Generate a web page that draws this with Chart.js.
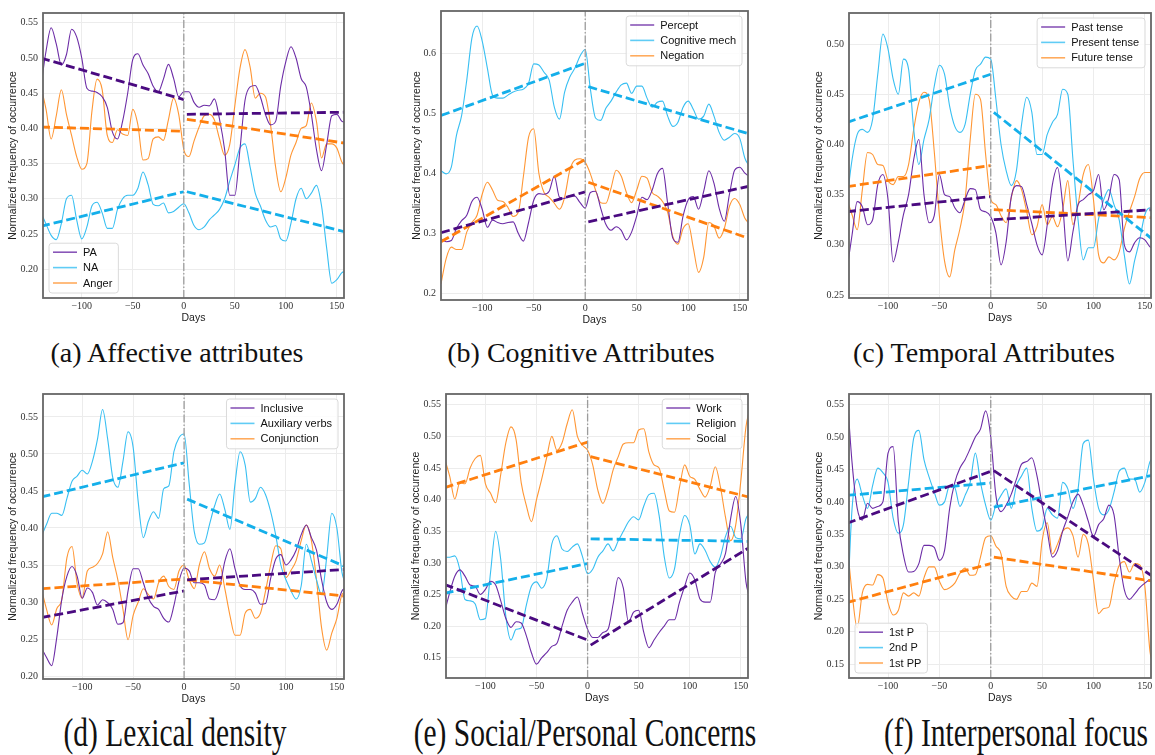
<!DOCTYPE html>
<html>
<head>
<meta charset="utf-8">
<script src="https://cdn.jsdelivr.net/npm/chart.js@4.4.1/dist/chart.umd.min.js"></script>
<style>
  body { margin: 0; background: #fff; width: 1155px; height: 755px; position: relative; overflow: hidden; }
  canvas { position: absolute; }
  .cap { position: absolute; width: 600px; text-align: center; white-space: nowrap;
         font-family: "Liberation Serif", "Times New Roman", serif; color: #111; transform-origin: center center; }
  .top { font-size: 28px; line-height: 28px; top: 339px; }
  .bottom { font-size: 41px; line-height: 41px; top: 712px; transform: scaleX(0.72); }
</style>
</head>
<body>
<canvas id="chartA"></canvas>
<canvas id="chartB"></canvas>
<canvas id="chartC"></canvas>
<canvas id="chartD"></canvas>
<canvas id="chartE"></canvas>
<canvas id="chartF"></canvas>

<div class="cap top" style="left:-123px">(a) Affective attributes</div>
<div class="cap top" style="left:281px">(b) Cognitive Attributes</div>
<div class="cap top" style="left:684px">(c) Temporal Attributes</div>
<div class="cap bottom" style="left:-125px">(d) Lexical density</div>
<div class="cap bottom" style="left:285px">(e) Social/Personal Concerns</div>
<div class="cap bottom" style="left:716px">(f) Interpersonal focus</div>

<script>
// days relative to the event, sampled every 5 days (last sample at the right edge)
const days = [-140, -135, -130, -125, -120, -115, -110, -105, -100, -95,
              -90, -85, -80, -75, -70, -65, -60, -55, -50, -45,
              -40, -35, -30, -25, -20, -15, -10, -5, 0, 5,
              10, 15, 20, 25, 30, 35, 40, 45, 50, 55,
              60, 65, 70, 75, 80, 85, 90, 95, 100, 105,
              110, 115, 120, 125, 130, 135, 140, 145, 150, 155, 158];
const xTicks = [-100, -50, 0, 50, 100, 150];
// trend segments: before (start, end) and after (start, end)
const trendDays = [-140, 0, 3, 158];

// (a) Affective attributes
const paValues = [0.46, 0.51, 0.543, 0.52, 0.49, 0.505, 0.541, 0.53, 0.50, 0.457,
  0.453, 0.451, 0.445, 0.43, 0.395, 0.385, 0.41, 0.45, 0.498, 0.506,
  0.49, 0.478, 0.46, 0.452, 0.47, 0.491, 0.471, 0.445, 0.452, 0.452,
  0.437, 0.43, 0.433, 0.432, 0.442, 0.413, 0.37, 0.305, 0.305, 0.37,
  0.44, 0.459, 0.461, 0.445, 0.42, 0.405, 0.41, 0.46, 0.495, 0.516,
  0.50, 0.471, 0.459, 0.42, 0.37, 0.34, 0.377, 0.418, 0.42, 0.41, 0.409];
const naValues = [0.28, 0.264, 0.248, 0.242, 0.265, 0.30, 0.305, 0.27, 0.243, 0.26,
  0.29, 0.295, 0.28, 0.258, 0.258, 0.285, 0.30, 0.305, 0.305, 0.315,
  0.338, 0.32, 0.292, 0.29, 0.294, 0.28, 0.282, 0.288, 0.293, 0.28,
  0.262, 0.256, 0.26, 0.27, 0.277, 0.285, 0.30, 0.325, 0.348, 0.372,
  0.378, 0.345, 0.308, 0.29, 0.27, 0.26, 0.262, 0.243, 0.24, 0.265,
  0.30, 0.315, 0.30, 0.308, 0.319, 0.29, 0.23, 0.18, 0.185, 0.195, 0.197];
const angerValues = [0.459, 0.427, 0.385, 0.418, 0.455, 0.42, 0.39, 0.36, 0.342, 0.35,
  0.425, 0.47, 0.455, 0.39, 0.38, 0.398, 0.392, 0.39, 0.427, 0.405,
  0.355, 0.357, 0.385, 0.388, 0.383, 0.413, 0.443, 0.42, 0.37, 0.36,
  0.382, 0.402, 0.418, 0.42, 0.412, 0.385, 0.362, 0.377, 0.432, 0.485,
  0.512, 0.487, 0.443, 0.45, 0.445, 0.405, 0.345, 0.31, 0.33, 0.362,
  0.38, 0.40, 0.404, 0.436, 0.41, 0.358, 0.378, 0.378, 0.372, 0.352, 0.347];
const paTrend = [0.500, 0.441, 0.420, 0.423];
const naTrend = [0.261, 0.310, 0.310, 0.253];
const angerTrend = [0.402, 0.396, 0.413, 0.379];
const affectiveTicks = [0.20, 0.25, 0.30, 0.35, 0.40, 0.45, 0.50, 0.55];

// (b) Cognitive attributes
const perceptValues = [0.291, 0.286, 0.288, 0.308, 0.321, 0.33, 0.353, 0.36, 0.34, 0.31,
  0.322, 0.318, 0.316, 0.318, 0.319, 0.30, 0.287, 0.318, 0.355, 0.366,
  0.365, 0.37, 0.395, 0.36, 0.358, 0.363, 0.362, 0.351, 0.342, 0.368,
  0.37, 0.342, 0.315, 0.305, 0.311, 0.305, 0.289, 0.302, 0.329, 0.36,
  0.356, 0.372, 0.399, 0.408, 0.35, 0.292, 0.285, 0.329, 0.356, 0.361,
  0.34, 0.37, 0.404, 0.383, 0.342, 0.32, 0.365, 0.405, 0.41, 0.40, 0.396];
const cogMechValues = [0.404, 0.399, 0.41, 0.463, 0.496, 0.555, 0.625, 0.645, 0.62, 0.575,
  0.53, 0.525, 0.525, 0.53, 0.535, 0.538, 0.54, 0.55, 0.582, 0.58,
  0.568, 0.555, 0.51, 0.49, 0.535, 0.56, 0.575, 0.595, 0.606, 0.54,
  0.492, 0.488, 0.508, 0.52, 0.535, 0.547, 0.55, 0.533, 0.545, 0.545,
  0.525, 0.51, 0.518, 0.52, 0.495, 0.478, 0.485, 0.51, 0.52, 0.506,
  0.49, 0.495, 0.515, 0.495, 0.468, 0.455, 0.46, 0.466, 0.458, 0.425, 0.415];
const negationValues = [0.216, 0.258, 0.277, 0.273, 0.273, 0.302, 0.318, 0.33, 0.365, 0.385,
  0.372, 0.355, 0.353, 0.343, 0.328, 0.335, 0.395, 0.46, 0.474, 0.40,
  0.368, 0.36, 0.35, 0.34, 0.36, 0.405, 0.422, 0.424, 0.418, 0.399,
  0.372, 0.351, 0.35, 0.375, 0.405, 0.395, 0.368, 0.351, 0.372, 0.395,
  0.392, 0.368, 0.362, 0.353, 0.335, 0.295, 0.282, 0.308, 0.316, 0.275,
  0.235, 0.26, 0.318, 0.312, 0.292, 0.308, 0.345, 0.358, 0.348, 0.325, 0.318];
const perceptTrend = [0.301, 0.369, 0.319, 0.378];
const cogMechTrend = [0.496, 0.583, 0.544, 0.466];
const negationTrend = [0.286, 0.423, 0.385, 0.292];
const cognitiveTicks = [0.2, 0.3, 0.4, 0.5, 0.6];

// (c) Temporal attributes
const pastValues = [0.275, 0.31, 0.343, 0.338, 0.32, 0.325, 0.36, 0.37, 0.345, 0.283,
  0.303, 0.33, 0.35, 0.385, 0.405, 0.35, 0.322, 0.329, 0.37, 0.35,
  0.348, 0.337, 0.332, 0.345, 0.356, 0.355, 0.335, 0.333, 0.328, 0.312,
  0.28, 0.303, 0.348, 0.359, 0.358, 0.34, 0.321, 0.30, 0.29, 0.32,
  0.36, 0.377, 0.34, 0.284, 0.313, 0.34, 0.345, 0.35, 0.354, 0.37,
  0.335, 0.347, 0.37, 0.365, 0.30, 0.293, 0.302, 0.307, 0.305, 0.298, 0.297];
const presentValues = [0.345, 0.385, 0.41, 0.415, 0.412, 0.425, 0.47, 0.51, 0.495, 0.465,
  0.45, 0.485, 0.475, 0.415, 0.38, 0.405, 0.425, 0.458, 0.479, 0.47,
  0.438, 0.418, 0.412, 0.42, 0.45, 0.474, 0.48, 0.487, 0.485, 0.445,
  0.40, 0.374, 0.359, 0.374, 0.42, 0.447, 0.432, 0.39, 0.39, 0.41,
  0.422, 0.43, 0.455, 0.45, 0.385, 0.325, 0.285, 0.297, 0.297, 0.326,
  0.345, 0.355, 0.34, 0.325, 0.29, 0.261, 0.284, 0.305, 0.33, 0.337, 0.337];
const futureValues = [0.345, 0.33, 0.315, 0.355, 0.392, 0.39, 0.38, 0.379, 0.364, 0.36,
  0.368, 0.368, 0.38, 0.415, 0.442, 0.452, 0.445, 0.393, 0.329, 0.284,
  0.268, 0.295, 0.316, 0.345, 0.405, 0.45, 0.445, 0.39, 0.345, 0.34,
  0.329, 0.322, 0.347, 0.364, 0.355, 0.333, 0.31, 0.318, 0.34, 0.32,
  0.328, 0.318, 0.335, 0.364, 0.32, 0.34, 0.37, 0.38, 0.345, 0.29,
  0.282, 0.288, 0.285, 0.293, 0.316, 0.333, 0.348, 0.366, 0.372, 0.372, 0.372];
const pastTrend = [0.333, 0.348, 0.325, 0.335];
const presentTrend = [0.422, 0.470, 0.432, 0.305];
const futureTrend = [0.358, 0.379, 0.335, 0.327];
const temporalTicks = [0.25, 0.30, 0.35, 0.40, 0.45, 0.50];

// (d) Lexical density
const inclusiveValues = [0.238, 0.225, 0.214, 0.252, 0.304, 0.335, 0.348, 0.335, 0.305, 0.319,
  0.313, 0.296, 0.303, 0.299, 0.29, 0.27, 0.272, 0.315, 0.345, 0.345,
  0.326, 0.305, 0.294, 0.29, 0.278, 0.273, 0.295, 0.328, 0.346, 0.342,
  0.326, 0.326, 0.323, 0.304, 0.303, 0.32, 0.355, 0.372, 0.345, 0.322,
  0.317, 0.317, 0.312, 0.297, 0.298, 0.332, 0.358, 0.364, 0.35, 0.357,
  0.37, 0.391, 0.404, 0.387, 0.37, 0.33, 0.30, 0.29, 0.297, 0.315, 0.319];
const auxVerbValues = [0.389, 0.405, 0.42, 0.42, 0.417, 0.44, 0.463, 0.47, 0.478, 0.473,
  0.49, 0.52, 0.56, 0.52, 0.468, 0.455, 0.49, 0.53, 0.509, 0.435,
  0.387, 0.409, 0.422, 0.413, 0.453, 0.457, 0.503, 0.522, 0.527, 0.46,
  0.395, 0.378, 0.38, 0.405, 0.43, 0.446, 0.425, 0.398, 0.46, 0.503,
  0.485, 0.435, 0.44, 0.455, 0.445, 0.422, 0.39, 0.35, 0.33, 0.315,
  0.304, 0.322, 0.378, 0.356, 0.33, 0.31, 0.36, 0.42, 0.40, 0.34, 0.326];
const conjunctionValues = [0.317, 0.29, 0.269, 0.291, 0.304, 0.36, 0.375, 0.325, 0.305, 0.342,
  0.347, 0.352, 0.365, 0.395, 0.36, 0.33, 0.29, 0.249, 0.282, 0.30,
  0.318, 0.31, 0.304, 0.326, 0.335, 0.321, 0.317, 0.342, 0.35, 0.33,
  0.318, 0.35, 0.368, 0.345, 0.335, 0.35, 0.318, 0.282, 0.255, 0.255,
  0.285, 0.29, 0.278, 0.285, 0.315, 0.35, 0.376, 0.372, 0.333, 0.343,
  0.356, 0.383, 0.404, 0.383, 0.33, 0.265, 0.235, 0.258, 0.278, 0.31, 0.313];
const inclusiveTrend = [0.279, 0.315, 0.330, 0.344];
const auxVerbTrend = [0.442, 0.488, 0.439, 0.348];
const conjunctionTrend = [0.318, 0.331, 0.330, 0.308];
const lexicalTicks = [0.20, 0.25, 0.30, 0.35, 0.40, 0.45, 0.50, 0.55];

// (e) Social/Personal concerns
const workValues = [0.222, 0.253, 0.279, 0.289, 0.279, 0.265, 0.263, 0.25, 0.258, 0.271,
  0.265, 0.24, 0.212, 0.198, 0.207, 0.205, 0.185, 0.158, 0.14, 0.15,
  0.158, 0.168, 0.173, 0.20, 0.225, 0.238, 0.246, 0.22, 0.195, 0.182,
  0.182, 0.19, 0.195, 0.235, 0.277, 0.26, 0.207, 0.222, 0.225, 0.19,
  0.166, 0.178, 0.19, 0.20, 0.21, 0.21, 0.238, 0.263, 0.284, 0.273,
  0.243, 0.238, 0.238, 0.285, 0.298, 0.315, 0.37, 0.405, 0.36, 0.27, 0.248];
const religionValues = [0.309, 0.309, 0.311, 0.289, 0.242, 0.24, 0.235, 0.21, 0.212, 0.285,
  0.35, 0.305, 0.215, 0.178, 0.195, 0.197, 0.233, 0.263, 0.27, 0.26,
  0.275, 0.33, 0.343, 0.322, 0.318, 0.325, 0.33, 0.31, 0.283, 0.29,
  0.309, 0.319, 0.33, 0.319, 0.335, 0.35, 0.365, 0.373, 0.368, 0.39,
  0.408, 0.41, 0.375, 0.31, 0.276, 0.29, 0.345, 0.375, 0.36, 0.314,
  0.33, 0.32, 0.302, 0.293, 0.31, 0.342, 0.358, 0.34, 0.338, 0.37, 0.378];
const socialValues = [0.465, 0.437, 0.401, 0.427, 0.425, 0.45, 0.465, 0.47, 0.425, 0.41,
  0.395, 0.44, 0.49, 0.515, 0.495, 0.427, 0.391, 0.365, 0.40, 0.432,
  0.467, 0.50, 0.478, 0.49, 0.52, 0.542, 0.50, 0.486, 0.478, 0.455,
  0.415, 0.394, 0.415, 0.447, 0.468, 0.488, 0.49, 0.49, 0.51, 0.512,
  0.475, 0.455, 0.45, 0.415, 0.382, 0.38, 0.42, 0.455, 0.437, 0.432,
  0.416, 0.404, 0.421, 0.452, 0.42, 0.372, 0.335, 0.36, 0.43, 0.515, 0.539];
const workTrend = [0.266, 0.178, 0.170, 0.324];
const religionTrend = [0.252, 0.299, 0.338, 0.334];
const socialTrend = [0.419, 0.491, 0.468, 0.404];
const concernTicks = [0.15, 0.20, 0.25, 0.30, 0.35, 0.40, 0.45, 0.50, 0.55];

// (f) Interpersonal focus
const firstPValues = [0.57, 0.46, 0.39, 0.372, 0.398, 0.39, 0.393, 0.40, 0.475, 0.485,
  0.37, 0.318, 0.292, 0.293, 0.305, 0.333, 0.333, 0.33, 0.31, 0.325,
  0.39, 0.43, 0.452, 0.465, 0.482, 0.50, 0.512, 0.54, 0.50, 0.41,
  0.385, 0.395, 0.412, 0.435, 0.458, 0.462, 0.468, 0.44, 0.395, 0.355,
  0.315, 0.325, 0.355, 0.377, 0.40, 0.412, 0.395, 0.37, 0.347, 0.365,
  0.374, 0.395, 0.38, 0.315, 0.265, 0.25, 0.258, 0.268, 0.275, 0.28, 0.28];
const secondPValues = [0.22, 0.39, 0.435, 0.41, 0.39, 0.425, 0.452, 0.445, 0.43, 0.375,
  0.352, 0.365, 0.43, 0.498, 0.51, 0.465, 0.438, 0.415, 0.395, 0.40,
  0.425, 0.422, 0.393, 0.41, 0.43, 0.475, 0.43, 0.395, 0.372, 0.395,
  0.41, 0.42, 0.39, 0.425, 0.44, 0.452, 0.39, 0.355, 0.36, 0.39,
  0.38, 0.375, 0.43, 0.42, 0.39, 0.42, 0.49, 0.495, 0.435, 0.39,
  0.38, 0.388, 0.415, 0.447, 0.452, 0.435, 0.435, 0.415, 0.43, 0.462, 0.467];
const firstPPValues = [0.34, 0.26, 0.206, 0.26, 0.273, 0.272, 0.288, 0.283, 0.245, 0.226,
  0.233, 0.26, 0.255, 0.26, 0.255, 0.283, 0.30, 0.30, 0.278, 0.265,
  0.268, 0.275, 0.29, 0.298, 0.287, 0.288, 0.315, 0.345, 0.348, 0.332,
  0.32, 0.27, 0.255, 0.25, 0.262, 0.262, 0.275, 0.27, 0.34, 0.368,
  0.32, 0.335, 0.355, 0.36, 0.348, 0.315, 0.35, 0.335, 0.28, 0.228,
  0.236, 0.238, 0.275, 0.302, 0.308, 0.292, 0.305, 0.303, 0.27, 0.17, 0.15];
const firstPTrend = [0.367, 0.447, 0.448, 0.285];
const secondPTrend = [0.410, 0.429, 0.392, 0.441];
const firstPPTrend = [0.245, 0.305, 0.315, 0.278];
const focusTicks = [0.15, 0.20, 0.25, 0.30, 0.35, 0.40, 0.45, 0.50, 0.55];

const COLORS = {
  purple: '#6c2ca6', purpleTrend: '#4a0a80',
  cyan: '#38bff2', cyanTrend: '#14afea',
  orange: '#ff9634', orangeTrend: '#ff7f0e'
};

function toPoints(xs, ys) {
  return xs.map((x, i) => ({ x: x, y: ys[i] }));
}

function seriesLine(label, values, color) {
  return {
    label: label, inLegend: true,
    data: toPoints(days, values),
    borderColor: color, borderWidth: 1.1,
    pointRadius: 0, cubicInterpolationMode: 'monotone'
  };
}

function trendLines(values, color) {
  const style = { borderColor: color, borderWidth: 2.8, borderDash: [9, 4], pointRadius: 0, tension: 0 };
  return [
    Object.assign({ data: toPoints(trendDays.slice(0, 2), values.slice(0, 2)) }, style),
    Object.assign({ data: toPoints(trendDays.slice(2, 4), values.slice(2, 4)) }, style)
  ];
}

// rectangle around the plotting area
const frame = {
  id: 'frame',
  afterDatasetsDraw(chart) {
    const a = chart.chartArea, ctx = chart.ctx;
    ctx.save();
    ctx.strokeStyle = '#666';
    ctx.lineWidth = 1.8;
    ctx.strokeRect(a.left, a.top, a.right - a.left, a.bottom - a.top);
    ctx.restore();
  }
};

// boxed legend drawn inside a corner of the plot
const cornerLegend = {
  id: 'cornerLegend',
  afterDraw(chart, args, opts) {
    const ctx = chart.ctx, a = chart.chartArea;
    const items = chart.data.datasets.filter(d => d.inLegend);
    ctx.save();
    ctx.font = '11px "Liberation Sans", Arial, sans-serif';
    const rowH = 15.4;
    const textW = Math.max(...items.map(d => ctx.measureText(d.label).width));
    const w = 34 + textW + 6;
    const h = 19 + rowH * (items.length - 1);
    const x = opts.corner === 'bl' ? a.left + 6 : a.right - 6 - w;
    const y = opts.corner === 'bl' ? a.bottom - 5 - h : a.top + 5;
    ctx.beginPath();
    ctx.roundRect(x, y, w, h, 3);
    ctx.fillStyle = 'rgba(255,255,255,0.85)';
    ctx.fill();
    ctx.strokeStyle = '#dadada';
    ctx.lineWidth = 1;
    ctx.stroke();
    items.forEach((d, i) => {
      const cy = y + 9 + i * rowH;
      ctx.beginPath();
      ctx.moveTo(x + 4, cy);
      ctx.lineTo(x + 28, cy);
      ctx.strokeStyle = d.borderColor;
      ctx.globalAlpha = 0.8;
      ctx.lineWidth = 1.6;
      ctx.stroke();
      ctx.globalAlpha = 1;
      ctx.fillStyle = '#111';
      ctx.textBaseline = 'middle';
      ctx.fillText(d.label, x + 34, cy + 0.5);
    });
    ctx.restore();
  }
};

function fmtDay(v) {
  return v < 0 ? '\u2212' + Math.abs(v) : String(v);
}

function makePanel(id, box, xRange, yRange, yTicks, decimals, yAxisW, corner, series) {
  const canvas = document.getElementById(id);
  const left = box[0] - yAxisW, top = box[1] - 2;
  canvas.width = box[2] + 4 - left;
  canvas.height = box[3] + 26 - top;
  canvas.style.left = left + 'px';
  canvas.style.top = top + 'px';

  const datasets = [{
    data: [{ x: 0, y: yRange[0] }, { x: 0, y: yRange[1] }],
    borderColor: '#9c9c9c', borderWidth: 1.3, borderDash: [8, 2, 1.5, 2], pointRadius: 0
  }];
  series.forEach(s => datasets.push(...trendLines(s.trend, s.trendColor)));
  series.forEach(s => datasets.push(seriesLine(s.label, s.values, s.color)));

  return new Chart(canvas, {
    type: 'line',
    data: { datasets: datasets },
    options: {
      responsive: false,
      animation: false,
      devicePixelRatio: 1,
      layout: { padding: { top: 2, right: 4, left: 0, bottom: 0 } },
      plugins: {
        legend: { display: false },
        tooltip: { enabled: false },
        cornerLegend: { corner: corner }
      },
      scales: {
        x: {
          type: 'linear', min: xRange[0], max: xRange[1],
          afterFit: s => { s.height = 26; },
          afterBuildTicks: s => { s.ticks = xTicks.map(v => ({ value: v })); },
          grid: { color: '#ececec', drawTicks: false },
          border: { display: false },
          ticks: {
            padding: 2, autoSkip: false, maxRotation: 0, color: '#333',
            font: { family: '"Liberation Serif", serif', size: 10 },
            callback: v => fmtDay(v)
          },
          title: {
            display: true, text: 'Days', color: '#222', padding: 0,
            font: { family: '"Liberation Sans", Arial, sans-serif', size: 10.5 }
          }
        },
        y: {
          min: yRange[0], max: yRange[1],
          afterFit: s => { s.width = yAxisW; },
          afterBuildTicks: s => { s.ticks = yTicks.map(v => ({ value: v })); },
          grid: { color: '#ececec', drawTicks: false },
          border: { display: false },
          ticks: {
            padding: 5, autoSkip: false, color: '#333',
            font: { family: '"Liberation Serif", serif', size: 10 },
            callback: v => v.toFixed(decimals)
          },
          title: {
            display: true, text: 'Normalized frequency of occurrence', color: '#222', padding: 0,
            font: { family: '"Liberation Sans", Arial, sans-serif', size: 10.5 }
          }
        }
      }
    },
    plugins: [frame, cornerLegend]
  });
}

makePanel('chartA', [43, 4, 344, 298], [-138, 157], [0.159, 0.564], affectiveTicks, 2, 36, 'bl', [
  { label: 'PA', values: paValues, color: COLORS.purple, trend: paTrend, trendColor: COLORS.purpleTrend },
  { label: 'NA', values: naValues, color: COLORS.cyan, trend: naTrend, trendColor: COLORS.cyanTrend },
  { label: 'Anger', values: angerValues, color: COLORS.orange, trend: angerTrend, trendColor: COLORS.orangeTrend }
]);

makePanel('chartB', [441, 2, 748, 300], [-140, 158], [0.189, 0.670], cognitiveTicks, 1, 30, 'tr', [
  { label: 'Percept', values: perceptValues, color: COLORS.purple, trend: perceptTrend, trendColor: COLORS.purpleTrend },
  { label: 'Cognitive mech', values: cogMechValues, color: COLORS.cyan, trend: cogMechTrend, trendColor: COLORS.cyanTrend },
  { label: 'Negation', values: negationValues, color: COLORS.orange, trend: negationTrend, trendColor: COLORS.orangeTrend }
]);

makePanel('chartC', [849, 4, 1151, 298], [-138, 156], [0.247, 0.531], temporalTicks, 2, 36, 'tr', [
  { label: 'Past tense', values: pastValues, color: COLORS.purple, trend: pastTrend, trendColor: COLORS.purpleTrend },
  { label: 'Present tense', values: presentValues, color: COLORS.cyan, trend: presentTrend, trendColor: COLORS.cyanTrend },
  { label: 'Future tense', values: futureValues, color: COLORS.orange, trend: futureTrend, trendColor: COLORS.orangeTrend }
]);

makePanel('chartD', [43, 385, 344, 679], [-138.5, 157], [0.196, 0.581], lexicalTicks, 2, 36, 'tr', [
  { label: 'Inclusive', values: inclusiveValues, color: COLORS.purple, trend: inclusiveTrend, trendColor: COLORS.purpleTrend },
  { label: 'Auxiliary verbs', values: auxVerbValues, color: COLORS.cyan, trend: auxVerbTrend, trendColor: COLORS.cyanTrend },
  { label: 'Conjunction', values: conjunctionValues, color: COLORS.orange, trend: conjunctionTrend, trendColor: COLORS.orangeTrend }
]);

makePanel('chartE', [446, 385, 748, 678], [-138.6, 157], [0.118, 0.567], concernTicks, 2, 36, 'tr', [
  { label: 'Work', values: workValues, color: COLORS.purple, trend: workTrend, trendColor: COLORS.purpleTrend },
  { label: 'Religion', values: religionValues, color: COLORS.cyan, trend: religionTrend, trendColor: COLORS.cyanTrend },
  { label: 'Social', values: socialValues, color: COLORS.orange, trend: socialTrend, trendColor: COLORS.orangeTrend }
]);

makePanel('chartF', [849, 385, 1151, 678], [-138, 156], [0.129, 0.566], focusTicks, 2, 36, 'bl', [
  { label: '1st P', values: firstPValues, color: COLORS.purple, trend: firstPTrend, trendColor: COLORS.purpleTrend },
  { label: '2nd P', values: secondPValues, color: COLORS.cyan, trend: secondPTrend, trendColor: COLORS.cyanTrend },
  { label: '1st PP', values: firstPPValues, color: COLORS.orange, trend: firstPPTrend, trendColor: COLORS.orangeTrend }
]);
</script>
</body>
</html>
